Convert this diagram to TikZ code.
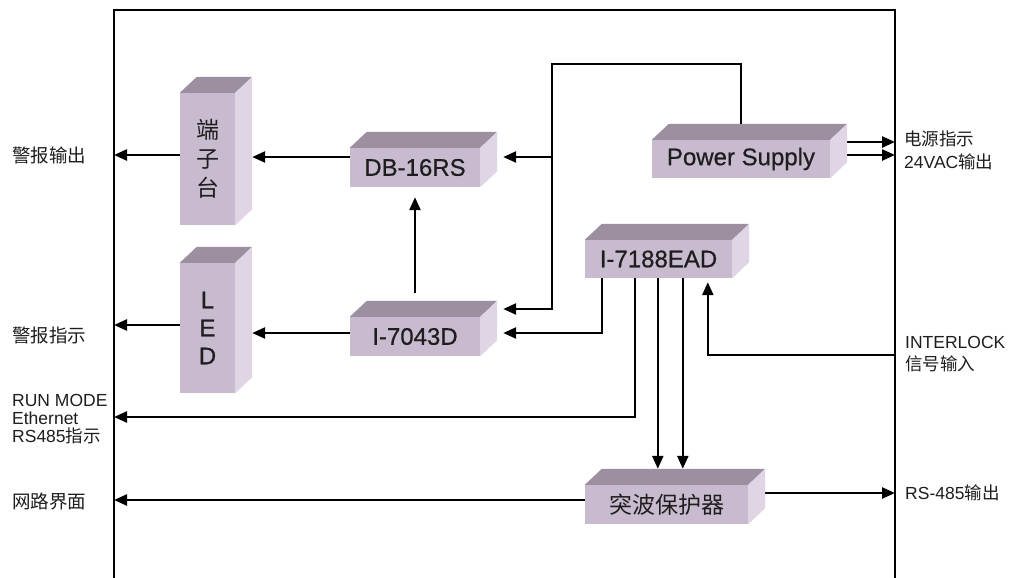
\documentclass[tikz,border=0pt]{standalone}
\usepackage{fontspec}
\setmainfont{Liberation Sans}
\newfontfamily\boxfont[FakeBold=0.6]{Liberation Sans}
\newfontfamily\cjk{Noto Sans CJK SC}
\usetikzlibrary{arrows.meta,calc}
\pgfdeclarelayer{bg}
\pgfsetlayers{bg,main}
\definecolor{frontc}{HTML}{C9BBCF}
\definecolor{topc}{HTML}{9B8FA0}
\definecolor{sidec}{HTML}{E0D5E4}
\definecolor{txt}{HTML}{1E1E1E}
\newcommand\cube[7]{% opts name cx cy w h text
  \node[boxfront,#1,minimum width=#5pt,minimum height=#6pt] (#2) at (#3,#4) {#7};
  \fill[topc] (#2.north west) -- ++(17,-16) -- ([shift={(17,-16)}]#2.north east) -- (#2.north east) -- cycle;
  \fill[sidec] (#2.north east) -- ++(17,-16) -- ([shift={(17,-16)}]#2.south east) -- (#2.south east) -- cycle;
  \coordinate (#2-r) at ([xshift=17pt]#2.east);
  \coordinate (#2-t) at ([yshift=16pt]#2.north);
}
\begin{document}
\begin{tikzpicture}[x=1pt,y=-1pt,
  boxfront/.style={fill=frontc,inner sep=0pt,align=center,text=txt,font=\boxfont\fontsize{24}{28}\selectfont},
  wire/.style={line width=2.4pt,line join=miter},
  arr/.style={wire,-{Triangle[length=13pt,width=11pt]}},
  lab/.style={anchor=west,inner sep=0pt,align=left,text=txt,font=\fontsize{17.5}{18}\selectfont},
  cjklab/.style={lab,font=\cjk\fontsize{18.5}{20}\selectfont}]
\useasboundingbox (0,0) rectangle (1017,578);
\coordinate (fl) at (114,10);
\coordinate (fr) at (895,10);

\cube{font=\cjk\fontsize{23}{29}\selectfont}{tz}{207.5}{159}{55}{132}{端\\子\\台}
\cube{}{led}{207.5}{328}{55}{130}{L\\E\\D}
\cube{}{db}{415}{167.5}{130}{39}{DB-16RS}
\cube{}{io}{415}{336.5}{130}{39}{I-7043D}
\cube{}{ps}{741}{159}{178}{38}{Power Supply}
\cube{}{ead}{658.5}{259}{147}{38}{I-7188EAD}
\cube{font=\cjk\fontsize{23}{28}\selectfont}{sp}{666.5}{504.5}{163}{39}{突波保护器}

\coordinate (bus) at (552,64);
\coordinate (e1) at ([xshift=17pt]ead.south west);
\coordinate (e2) at ([xshift=50pt]ead.south west);
\coordinate (e3) at ([xshift=73pt]ead.south west);
\coordinate (e4) at ([xshift=98pt]ead.south west);
\coordinate (e5) at ([xshift=123pt]ead.south west);

\begin{pgfonlayer}{bg}
\fill[white] (0,0) rectangle (1017,578);
\draw[wire] (114,578) -- (fl) -- (fr) -- (895,578);
\draw[arr] (tz.west |- 0,155) -- (fl |- 0,155);
\draw[arr] (db.west |- 0,157) -- (tz-r |- 0,157);
\draw[arr,shorten >=6pt] (ps.north) -- (ps.north |- bus) -- (bus) -- (bus |- 0,309) -- (io-r |- 0,309);
\draw[arr,shorten >=6pt] (bus |- 0,157) -- (db-r |- 0,157);
\draw[arr,shorten <=24pt,shorten >=10pt] (io.north) -- (db.south);
\draw[arr] (io.west |- 0,333) -- (led-r |- 0,333);
\draw[arr] (led.west |- 0,325) -- (fl |- 0,325);
\draw[arr] (ps-r |- 0,142) -- (fr |- 0,142);
\draw[arr] (ps-r |- 0,155) -- (fr |- 0,155);
\draw[arr,shorten >=6pt] (e1) -- (e1 |- 0,333) -- (io-r |- 0,333);
\draw[arr] (e2) -- (e2 |- 0,417) -- (fl |- 0,417);
\draw[arr] (e3) -- (e3 |- sp-t);
\draw[arr] (e4) -- (e4 |- sp-t);
\draw[arr,shorten >=4pt] (fr |- 0,355) -- (e5 |- 0,355) -- (e5);
\draw[arr] (sp.west |- 0,500) -- (fl |- 0,500);
\draw[arr] (sp-r |- 0,493) -- (fr |- 0,493);
\end{pgfonlayer}

\node[cjklab] (l1) at (12,155) {警报输出};
\node[cjklab] (l2) at (12,335) {警报指示};
\node[lab] (l3) at (12,419) {RUN MODE\\Ethernet\\RS485{\cjk 指示}};
\node[cjklab] (l4) at (12,502) {网路界面};
\node[lab,font=\fontsize{17.5}{23}\selectfont] (r1) at (904,150.5) {{\cjk 电源指示}\\24VAC{\cjk 输出}};
\node[lab,font=\fontsize{17.5}{22}\selectfont] (r2) at (905,354) {INTERLOCK\\{\cjk 信号输入}};
\node[lab] (r3) at (905,493) {RS-485{\cjk 输出}};
\end{tikzpicture}
\end{document}
